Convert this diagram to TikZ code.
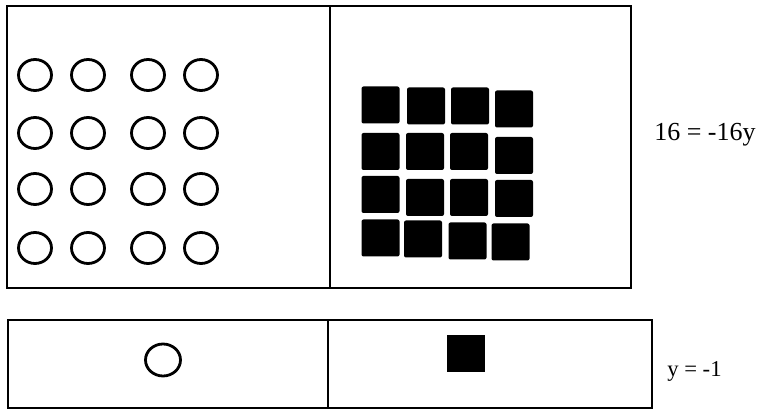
\documentclass[tikz,border=0pt]{standalone}
\usepackage{fontspec}
\setmainfont{Liberation Serif}
\usetikzlibrary{positioning}

\tikzset{
  frame/.style={line width=1.2pt},
  counter/.style={line width=2.1pt},
  tile/.style={fill=black,rounded corners=1.5pt},
  eqn/.style={inner sep=0pt,anchor=base west}
}

\begin{document}
\begin{tikzpicture}[x=0.75pt,y=0.75pt]
  \useasboundingbox (0,0) rectangle (757,414);
  \draw[frame] (7,408) rectangle (631,126);  \draw[frame] (330,408) -- (330,126);
  \draw[frame] (8,94) rectangle (652,6);     \draw[frame] (328,94) -- (328,6);
  \foreach \cx in {35,88,148,201}
    \foreach \cy in {339,281,225,166}
      \draw[counter] (\cx,\cy) ellipse [x radius=16.5, y radius=15.5];
  \foreach \cx/\cy in {380.5/309,426/308,470/308,514/305,
                       380.5/262.5,425/262.5,469/262.5,514/258.5,
                       380.5/219.5,425/216.5,469/216.5,514/215.5,
                       380.5/176,423/175,467.5/173,510.5/172}
    \fill[tile] (\cx-19,\cy-18.5) rectangle ++(38,37);
  \draw[counter] (163,54) ellipse [x radius=17.5, y radius=16];
  \fill (447,42) rectangle (485,79);
  \node[eqn,font=\fontsize{19.5}{22}\selectfont] (topeq) at (654,273) {16 = -16y};
  \node[eqn,font=\fontsize{17}{20}\selectfont] (boteq) at (667,37) {y = -1};
\end{tikzpicture}
\end{document}
